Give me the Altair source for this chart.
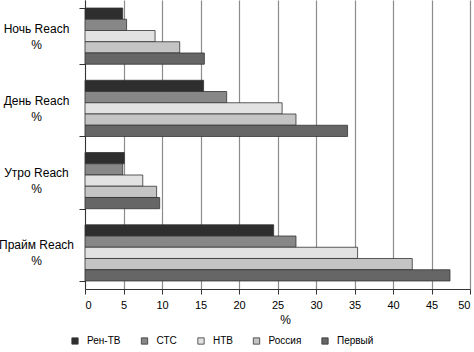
import altair as alt
import pandas as pd

periods = ["Ночь Reach\n%", "День Reach\n%", "Утро Reach\n%", "Прайм Reach\n%"]
channels = ["Рен-ТВ", "СТС", "НТВ", "Россия", "Первый"]
ren_tv = [4.9, 15.4, 5.1, 24.5]
sts = [5.4, 18.4, 4.9, 27.4]
ntv = [9.1, 25.6, 7.5, 35.4]
rossiya = [12.3, 27.4, 9.3, 42.5]
pervy = [15.5, 34.1, 9.7, 47.4]
x_ticks = [0, 5, 10, 15, 20, 25, 30, 35, 40, 45, 50]
colors = ["#2e2e2e", "#878787", "#e2e2e2", "#c4c4c4", "#666666"]

series = [ren_tv, sts, ntv, rossiya, pervy]
rows = []
for ch, vals in zip(channels, series):
    for p, v in zip(periods, vals):
        rows.append({"period": p, "channel": ch, "value": v})
df = pd.DataFrame(rows)

FONT = "Liberation Sans"

chart = alt.Chart(df).mark_bar(stroke="#333333", strokeWidth=0.8).encode(
    y=alt.Y(
        "period:N",
        sort=periods,
        scale=alt.Scale(paddingInner=0.222, paddingOuter=0.111),
        axis=alt.Axis(
            title=None,
            labelExpr="split(datum.label, '\\n')",
            labelAlign="center",
            labelBaseline="middle",
            labelPadding=43,
            labelOffset=-8,
            labelLineHeight=16,
            labelFontSize=12,
            labelFont=FONT,
            labelColor="#000000",
            tickBand="extent",
            tickSize=6,
            tickColor="#333333",
            domainColor="#333333",
            grid=False,
        ),
    ),
    yOffset=alt.YOffset("channel:N", sort=channels),
    x=alt.X(
        "value:Q",
        scale=alt.Scale(domain=[0, 50], nice=False),
        axis=alt.Axis(
            values=x_ticks,
            title="%",
            titleFont=FONT,
            titleFontSize=12,
            titleFontWeight="normal",
            titleColor="#000000",
            titlePadding=4,
            titleX=200,
            labelFont=FONT,
            labelFontSize=11,
            labelColor="#000000",
            labelPadding=5,
            tickSize=5,
            tickColor="#333333",
            domainColor="#333333",
            grid=True,
            gridColor="#8c8c8c",
            gridWidth=1.2,
        ),
    ),
    color=alt.Color(
        "channel:N",
        sort=channels,
        scale=alt.Scale(domain=channels, range=colors),
        legend=alt.Legend(
            title=None,
            orient="none",
            legendX=-15,
            legendY=336,
            direction="horizontal",
            columns=5,
            columnPadding=18.5,
            symbolType="square",
            symbolSize=40,
            symbolStrokeColor="#333333",
            symbolStrokeWidth=0.8,
            labelFont=FONT,
            labelFontSize=10,
            labelColor="#000000",
            labelOffset=7,
            padding=0,
        ),
    ),
).properties(
    width=385,
    height=289,
    autosize=alt.AutoSizeParams(type="none"),
    padding={"left": 85, "top": 0, "right": 4, "bottom": 63},
    background="white",
).configure_view(stroke=None)

chart.save("out.html", embed_options={"renderer": "svg", "actions": False})
